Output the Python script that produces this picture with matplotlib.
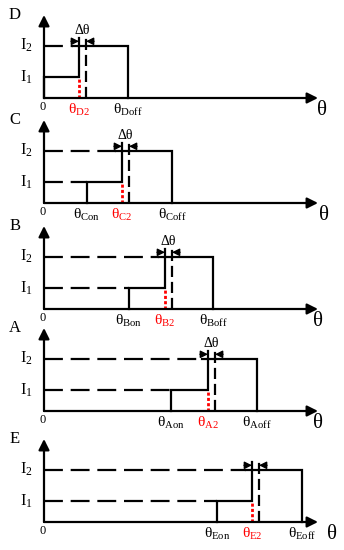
import matplotlib
matplotlib.use("Agg")
import matplotlib.pyplot as plt

plt.rcParams['font.family'] = ['Liberation Serif', 'DejaVu Serif']
plt.rcParams['mathtext.fontset'] = 'custom'
plt.rcParams['mathtext.rm'] = 'Liberation Serif'
plt.rcParams['mathtext.it'] = 'Liberation Serif:italic'

# ---- data (schematic angle positions, arbitrary units) ----
panels = ['D', 'C', 'B', 'A', 'E']
theta_on = [0, 43, 85, 127, 173]
theta_2 = [35, 78, 121, 164, 208]
theta_off = [84, 128, 169, 213, 258]
delta_theta = 7
I1 = 1.0
I2 = 2.5
on_labels = [None, 'Con', 'Bon', 'Aon', 'Eon']
two_labels = ['D2', 'C2', 'B2', 'A2', 'E2']
off_labels = ['Doff', 'Coff', 'Boff', 'Aoff', 'Eoff']
show_dtheta = [True, True, True, True, False]

# ---- layout (pixels) ----
W, H = 344, 550
baselines = [98, 203, 309, 411, 522]
theta_x_off = [4, 6, 0, 0, 14]
x_left, x_len = 44, 274
ax_h = 83
XMAX = 274
YMAX = ax_h / 21.0

fig = plt.figure(figsize=(W / 100, H / 100), dpi=100)

LW = 1.6
dash_h = (0, (8.5, 3.5))
dash_v = (0, (5, 2.2))

for i, p in enumerate(panels):
    b = baselines[i]
    ax = fig.add_axes([x_left / W, (H - b) / H, x_len / W, ax_h / H])
    ax.set_xlim(0, XMAX)
    ax.set_ylim(0, YMAX)
    ax.axis('off')

    # axes with arrows
    ax.annotate('', xy=(XMAX, 0), xytext=(0, 0),
                arrowprops=dict(arrowstyle='-|>', lw=LW, color='k',
                                mutation_scale=16, shrinkA=0, shrinkB=0),
                annotation_clip=False)
    ax.annotate('', xy=(0, YMAX), xytext=(0, 0),
                arrowprops=dict(arrowstyle='-|>', lw=LW, color='k',
                                mutation_scale=16, shrinkA=0, shrinkB=0),
                annotation_clip=False)

    on, t2, off = theta_on[i], theta_2[i], theta_off[i]
    t2d = t2 + delta_theta
    top = I2 + 0.38
    arr_y = I2 + 0.2

    # dashed reference levels
    if on > 0:
        ax.plot([0, on], [I1, I1], color='k', lw=LW, linestyle=dash_h,
                clip_on=False)
    ax.plot([0, t2 - 6], [I2, I2], color='k', lw=LW, linestyle=dash_h,
            clip_on=False)

    # current waveform
    ax.plot([on, on, t2, t2], [0, I1, I1, top], color='k', lw=LW,
            clip_on=False, solid_joinstyle='miter')
    ax.plot([t2 - 6, off, off], [I2, I2, 0], color='k', lw=LW,
            clip_on=False, solid_joinstyle='miter')
    # red dotted at theta_2
    ax.plot([t2, t2], [0, I1], color='red', lw=2.0, linestyle=(0, (1.1, 0.8)),
            clip_on=False)
    # dashed vertical at theta_2 + delta
    ax.plot([t2d, t2d], [0, top], color='k', lw=LW, linestyle=dash_v,
            clip_on=False)

    # delta-theta arrows
    ax.annotate('', xy=(t2, arr_y), xytext=(t2 - 8, arr_y),
                arrowprops=dict(arrowstyle='-|>', lw=1.0, color='k',
                                mutation_scale=11, shrinkA=0, shrinkB=0),
                annotation_clip=False)
    ax.annotate('', xy=(t2d, arr_y), xytext=(t2d + 8, arr_y),
                arrowprops=dict(arrowstyle='-|>', lw=1.0, color='k',
                                mutation_scale=11, shrinkA=0, shrinkB=0),
                annotation_clip=False)
    if show_dtheta[i]:
        ax.text((t2 + t2d) / 2, I2 + 0.7, 'Δθ', ha='center', va='center',
                fontsize=10)

    # level labels
    ax.annotate(r'$\mathrm{I_2}$', (0, I2), xytext=(-8, 0),
                textcoords='offset points', ha='right', va='center',
                fontsize=12)
    ax.annotate(r'$\mathrm{I_1}$', (0, I1), xytext=(-8, 0),
                textcoords='offset points', ha='right', va='center',
                fontsize=12)
    # panel letter
    ax.annotate(p, (0, YMAX), xytext=(-21, 0), textcoords='offset points',
                ha='center', va='center', fontsize=12)

    # x tick labels
    ax.annotate('0', (0, 0), xytext=(-1, -2), textcoords='offset points',
                ha='center', va='top', fontsize=9)
    if on_labels[i]:
        ax.annotate(r'$\mathrm{θ_{%s}}$' % on_labels[i], (on, 0),
                    xytext=(0, -3), textcoords='offset points',
                    ha='center', va='top', fontsize=11)
    ax.annotate(r'$\mathrm{θ_{%s}}$' % two_labels[i], (t2, 0),
                xytext=(0, -3), textcoords='offset points',
                ha='center', va='top', fontsize=11, color='red')
    ax.annotate(r'$\mathrm{θ_{%s}}$' % off_labels[i], (off, 0),
                xytext=(0, -3), textcoords='offset points',
                ha='center', va='top', fontsize=11)
    ax.annotate('θ', (XMAX, 0), xytext=(theta_x_off[i] * 0.72, -2),
                textcoords='offset points', ha='center', va='top',
                fontsize=15)

fig.savefig('out.png', dpi=100)
